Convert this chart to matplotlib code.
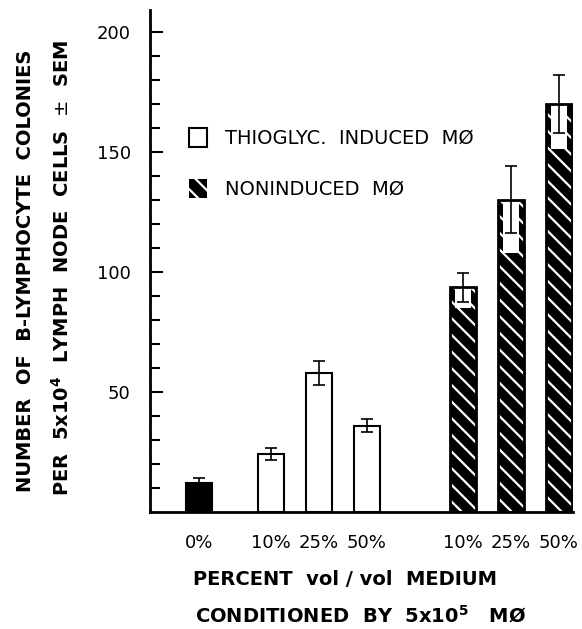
import matplotlib
matplotlib.use('Agg')
from matplotlib import pyplot as plt
from matplotlib.patches import Patch

# bar data
positions = [-1.5, 0, 1, 2, 4, 5, 6]
tick_labels = ['0%', '10%', '25%', '50%', '10%', '25%', '50%']

control_val = [12]
control_err = [2]

thio_val = [24, 58, 36]
thio_err = [2.5, 5, 2.7]

non_val = [93.5, 130, 170]
non_err = [6, 14, 12]
non_gap_bottom = [85, 108, 151]   # white patch at top of the hatched bars

plt.rcParams['font.family'] = 'DejaVu Sans'
plt.rcParams['hatch.linewidth'] = 1.6

fig = plt.figure(figsize=(5.82, 6.29), dpi=100)
ax = fig.add_axes([0.258, 0.186, 0.727, 0.798])

w = 0.55
ax.bar(positions[0], control_val, w, color='black', edgecolor='black', lw=1.5, zorder=2)
ax.bar(positions[1:4], thio_val, w, color='white', edgecolor='black', lw=1.5, zorder=2)
ax.bar(positions[4:], non_val, w, color='black', edgecolor='white', hatch='\\\\', lw=0, zorder=2)
gap_h = [v - b for v, b in zip(non_val, non_gap_bottom)]
ax.bar(positions[4:], gap_h, w * 0.6, bottom=non_gap_bottom, color='white', lw=0, zorder=3)
ax.bar(positions[4:], non_val, w, fill=False, edgecolor='black', lw=2, zorder=4)

ax.errorbar(positions[:1] + positions[1:4] + positions[4:],
            control_val + thio_val + non_val,
            yerr=control_err + thio_err + non_err,
            fmt='none', ecolor='black', elinewidth=1.2, capsize=4, capthick=1.2, zorder=5)

ax.set_xlim(-2.52, 6.3)
ax.set_ylim(0, 209)
ax.spines['top'].set_visible(False)
ax.spines['right'].set_visible(False)
ax.spines['left'].set_linewidth(2)
ax.spines['bottom'].set_linewidth(2)

ax.set_yticks([50, 100, 150, 200])
ax.set_yticks(range(10, 210, 10), minor=True)
ax.tick_params(axis='y', which='major', direction='in', length=9, width=1.5, labelsize=13, pad=14)
ax.tick_params(axis='y', which='minor', direction='in', length=7, width=1.5)
ax.set_xticks(positions)
ax.set_xticklabels(tick_labels)
ax.tick_params(axis='x', length=0, labelsize=13, pad=16)

fig.text(0.043, 0.569, 'NUMBER  OF  B-LYMPHOCYTE  COLONIES', rotation=90,
         ha='center', va='center', fontsize=14, fontweight='bold')
fig.text(0.107, 0.574, r'PER  5x10$^{\mathbf{4}}$  LYMPH  NODE  CELLS  $\pm$  SEM', rotation=90,
         ha='center', va='center', fontsize=14, fontweight='bold')

fig.text(0.332, 0.078, 'PERCENT  vol / vol  MEDIUM', ha='left', va='center',
         fontsize=14, fontweight='bold')
fig.text(0.335, 0.022, r'CONDITIONED  BY  5x10$^{\mathbf{5}}$   MØ', ha='left', va='center',
         fontsize=14, fontweight='bold')

handles = [Patch(facecolor='white', edgecolor='black', lw=1.5, label='THIOGLYC.  INDUCED  MØ'),
           Patch(facecolor='black', edgecolor='white', hatch='\\\\', lw=0, label='NONINDUCED  MØ')]
ax.legend(handles=handles, loc='upper left', bbox_to_anchor=(0.05, 0.80), frameon=False,
          fontsize=14, handlelength=0.95, handleheight=1.1, labelspacing=1.6, handletextpad=0.9)

fig.savefig('out.png', dpi=100)
